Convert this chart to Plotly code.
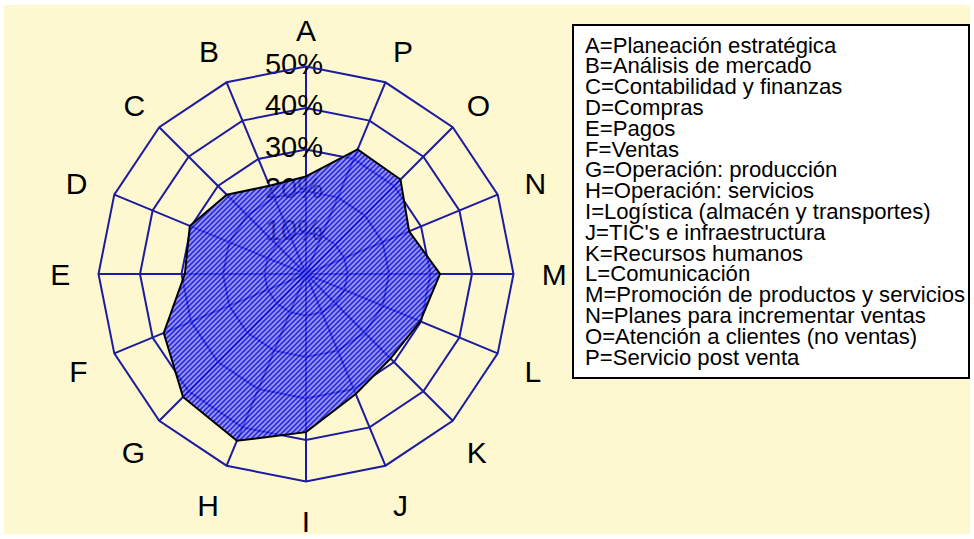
import math
import plotly.graph_objects as go

# ---------------- data ----------------
categories = list("ABCDEFGHIJKLMNOP")
area_names = [
    "Planeación estratégica",
    "Análisis de mercado",
    "Contabilidad y finanzas",
    "Compras",
    "Pagos",
    "Ventas",
    "Operación: producción",
    "Operación: servicios",
    "Logística (almacén y transportes)",
    "TIC's e infraestructura",
    "Recursos humanos",
    "Comunicación",
    "Promoción de productos y servicios",
    "Planes para incrementar ventas",
    "Atención a clientes (no ventas)",
    "Servicio post venta",
]
values = [23.5, 23.0, 27.0, 30.3, 29.2, 37.1, 41.9, 43.5,
          38.1, 31.3, 28.8, 29.8, 32.3, 26.9, 32.2, 32.5]
radial_ticks = [10, 20, 30, 40, 50]
radial_tick_labels = ["10%", "20%", "30%", "40%", "50%"]

# ---------------- style ----------------
W, H = 974, 539
CREAM = "#fef8d0"
GRID = "#1c1ca0"
FONT = "Liberation Sans, Arial, sans-serif"
cx, cy, R = 306, 274, 207.5
NB = "\u00a0"


def letter_label(i, c):
    """Add a small standoff to the labels that sit at the left/right sides."""
    cosang = math.cos(math.radians(90 + 360 * i / len(categories)))
    if cosang > 0.9:
        return NB + c
    if cosang < -0.9:
        return c + NB
    return c


angular_ticktext = [letter_label(i, c) for i, c in enumerate(categories)]

fig = go.Figure()

# radial tick labels (drawn under the area, as in the reference)
fig.add_trace(go.Scatterpolar(
    r=radial_ticks,
    theta=[categories[0]] * len(radial_ticks),
    mode="text",
    text=[t + NB * 3 for t in radial_tick_labels],
    textposition="middle center",
    textfont=dict(family=FONT, size=29, color="black"),
    cliponaxis=False,
    hoverinfo="skip",
    showlegend=False,
))

fig.add_trace(go.Scatterpolar(
    r=values + values[:1],
    theta=categories + categories[:1],
    mode="lines",
    fill="toself",
    fillcolor="rgba(60,60,230,0.85)",
    line=dict(color="black", width=2),
    showlegend=False,
))

fig.update_layout(
    width=W, height=H,
    margin=dict(l=0, r=0, t=0, b=0),
    paper_bgcolor="white",
    font=dict(family=FONT, color="black"),
    showlegend=False,
    polar=dict(
        domain=dict(x=[(cx - R) / W, (cx + R) / W],
                    y=[1 - (cy + R) / H, 1 - (cy - R) / H]),
        bgcolor=CREAM,
        gridshape="linear",
        radialaxis=dict(
            range=[0, 50], tickvals=radial_ticks, showticklabels=False,
            ticks="", showline=False, gridcolor=GRID, gridwidth=2,
            layer="above traces",
        ),
        angularaxis=dict(
            type="category", categoryorder="array", categoryarray=categories,
            tickmode="array", tickvals=categories, ticktext=angular_ticktext,
            direction="counterclockwise", rotation=90,
            showticklabels=True, tickfont=dict(family=FONT, size=30, color="black"),
            ticks="outside", ticklen=13, tickcolor="rgba(0,0,0,0)",
            showline=True, linecolor=GRID, linewidth=2,
            gridcolor=GRID, gridwidth=2, layer="above traces",
        ),
    ),
    shapes=[
        dict(type="rect", xref="paper", yref="paper", layer="below",
             x0=4 / W, x1=1 - 4 / W, y0=5 / H, y1=1 - 5 / H,
             fillcolor=CREAM, line=dict(width=0)),
        dict(type="rect", xref="paper", yref="paper", layer="above",
             x0=573 / W, x1=969 / W, y0=1 - 378 / H, y1=1 - 25 / H,
             fillcolor="white", line=dict(color="black", width=2)),
    ],
)

for i, (c, name) in enumerate(zip(categories, area_names)):
    fig.add_annotation(
        xref="paper", yref="paper",
        x=583 / W, y=1 - (45 + 20.8 * i) / H,
        xanchor="left", yanchor="middle", showarrow=False,
        text=f"{c}={name}",
        font=dict(family=FONT, size=22.1, color="black"),
    )

# page margin reset + diagonal hatch for the filled area (style only)
post_js = """
document.body.style.margin = '0';
var gd = document.getElementById('{plot_id}');
var ns = 'http://www.w3.org/2000/svg';
var svg = gd.querySelector('svg.main-svg');
var defs = svg ? svg.querySelector('defs') : null;
if (defs) {
  var pat = document.createElementNS(ns, 'pattern');
  pat.setAttribute('id', 'hatch-area');
  pat.setAttribute('patternUnits', 'userSpaceOnUse');
  pat.setAttribute('width', '5');
  pat.setAttribute('height', '5');
  var bg = document.createElementNS(ns, 'rect');
  bg.setAttribute('width', '5');
  bg.setAttribute('height', '5');
  bg.setAttribute('fill', 'rgba(240,240,255,0.75)');
  pat.appendChild(bg);
  var ln = document.createElementNS(ns, 'path');
  ln.setAttribute('d', 'M-1,1 L1,-1 M0,5 L5,0 M4,6 L6,4');
  ln.setAttribute('stroke', '#0505e6');
  ln.setAttribute('stroke-width', '2.6');
  pat.appendChild(ln);
  defs.appendChild(pat);
  gd.querySelectorAll('path.js-fill').forEach(function (p) {
    p.style.fill = 'url(#hatch-area)';
  });
}
"""

fig.write_html("out.html", config={"displayModeBar": False}, post_script=post_js)
